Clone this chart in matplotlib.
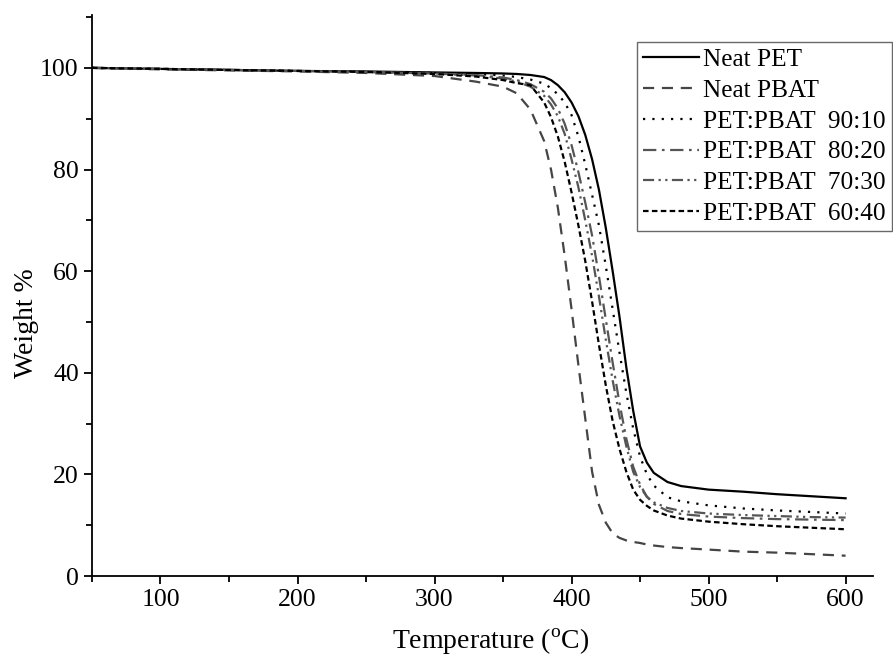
import matplotlib
matplotlib.use("Agg")
import matplotlib.pyplot as plt
from matplotlib.ticker import MultipleLocator

plt.rcParams["font.family"] = ["Liberation Serif", "DejaVu Serif"]
plt.rcParams["mathtext.fontset"] = "custom"
plt.rcParams["mathtext.rm"] = "Liberation Serif"

# temperature grid (degC) shared by all curves
temp = [50, 100, 150, 200, 250, 300, 330, 350, 360, 370, 380, 385, 390, 395,
        400, 405, 410, 415, 420, 425, 430, 435, 440, 445, 450, 455, 460, 470,
        480, 500, 525, 550, 575, 600]

# weight %
neat_pet = [100, 99.8, 99.6, 99.4, 99.3, 99.1, 99.0, 98.9, 98.8, 98.6, 98.2, 97.6,
            96.6, 95.2, 93.2, 90.5, 86.8, 82.0, 76.0, 68.5, 60.0, 51.0, 41.0, 32.5,
            25.5, 22.3, 20.3, 18.5, 17.7, 17.0, 16.6, 16.1, 15.7, 15.3]
neat_pbat = [100, 99.7, 99.5, 99.3, 99.0, 98.4, 97.3, 96.3, 95.0, 91.8, 85.6, 80.0,
             72.5, 63.0, 52.5, 41.5, 31.0, 20.5, 14.0, 10.5, 8.4, 7.5, 7.0, 6.7,
             6.5, 6.2, 6.0, 5.7, 5.5, 5.2, 4.8, 4.6, 4.3, 4.0]
blend_90 = [100, 99.8, 99.6, 99.4, 99.2, 99.0, 98.8, 98.5, 98.2, 97.7, 96.9, 96.0,
            94.8, 93.2, 90.7, 86.5, 81.0, 75.0, 69.0, 61.0, 52.5, 44.0, 36.0, 29.0,
            23.5, 20.0, 17.8, 15.5, 14.7, 13.9, 13.3, 12.9, 12.6, 12.3]
blend_80 = [100, 99.8, 99.6, 99.4, 99.2, 98.9, 98.6, 98.1, 97.6, 96.8, 95.3, 94.0,
            92.0, 89.0, 84.8, 79.5, 73.5, 67.0, 59.0, 50.5, 42.0, 34.0, 27.0, 21.5,
            18.0, 15.6, 14.2, 12.8, 12.2, 11.7, 11.4, 11.2, 11.1, 11.0]
blend_70 = [100, 99.8, 99.6, 99.4, 99.2, 98.9, 98.5, 97.9, 97.3, 96.3, 94.5, 92.8,
            90.5, 87.0, 82.0, 76.5, 70.0, 63.0, 55.0, 46.5, 38.5, 31.5, 25.5, 20.5,
            17.5, 15.6, 14.5, 13.4, 12.8, 12.3, 12.0, 11.8, 11.6, 11.5]
blend_60 = [100, 99.8, 99.6, 99.4, 99.2, 98.8, 98.3, 97.6, 97.0, 96.6, 93.2, 90.3,
            86.5, 81.5, 75.5, 69.0, 62.0, 54.0, 45.5, 37.5, 30.5, 25.0, 20.5, 17.0,
            15.0, 13.8, 12.9, 11.9, 11.3, 10.7, 10.2, 9.8, 9.5, 9.2]

labels = ["Neat PET", "Neat PBAT", "PET:PBAT  90:10", "PET:PBAT  80:20",
          "PET:PBAT  70:30", "PET:PBAT  60:40"]
series = [neat_pet, neat_pbat, blend_90, blend_80, blend_70, blend_60]
colors = ["black", "#454545", "black", "#555555", "#555555", "black"]
styles = ["-", (0, (5, 3.5)), (0, (1, 3.2)), (0, (6, 2.5, 1.2, 2.5)),
          (0, (5, 2, 1, 2, 1, 2)), (0, (2.5, 1.5))]

fig = plt.figure(figsize=(8.93, 6.68), dpi=100)
ax = fig.add_axes([0.103, 0.1377, 0.8746, 0.8398])

for y, lab, c, ls in zip(series, labels, colors, styles):
    ax.plot(temp, y, color=c, linestyle=ls, linewidth=1.6, label=lab)

ax.set_xlim(50, 620)
ax.set_ylim(0, 110.4)
ax.xaxis.set_major_locator(MultipleLocator(100))
ax.xaxis.set_minor_locator(MultipleLocator(50))
ax.yaxis.set_major_locator(MultipleLocator(20))
ax.yaxis.set_minor_locator(MultipleLocator(10))
ax.set_xticks([100, 200, 300, 400, 500, 600])

for side in ["top", "right"]:
    ax.spines[side].set_visible(False)
for side in ["left", "bottom"]:
    ax.spines[side].set_linewidth(1.3)

ax.tick_params(which="major", direction="out", length=6, width=1.3, labelsize=18.5)
ax.tick_params(which="minor", direction="out", length=4, width=1.3)

ax.set_xlabel("Temperature ($^{\\rm o}$C)", fontsize=20)
ax.set_ylabel("Weight %", fontsize=20)
ax.xaxis.set_label_coords(0.51, -0.09)
ax.yaxis.set_label_coords(-0.068, 0.45)

# legend box runs past the right edge of the figure, as in the source
leg = fig.legend(loc="upper left", bbox_to_anchor=(637 / 893, 1 - 42 / 668),
                 fontsize=18.2, frameon=True, fancybox=False, handlelength=2.2,
                 handletextpad=0.15, labelspacing=0.32, borderpad=0.25,
                 borderaxespad=0)
leg.get_frame().set_edgecolor("#444444")
leg.get_frame().set_linewidth(1.0)

fig.savefig("out.png", dpi=100)
